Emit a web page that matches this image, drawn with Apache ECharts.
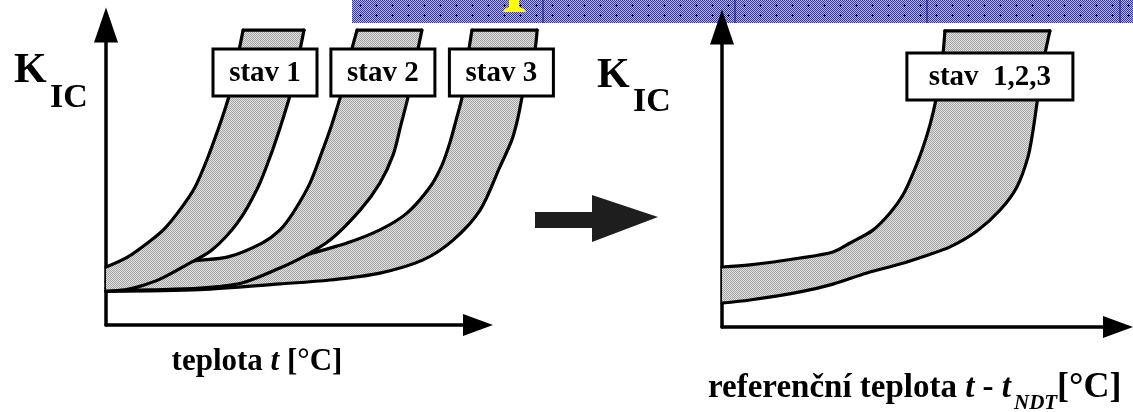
<!DOCTYPE html>
<html>
<head>
<meta charset="utf-8">
<script src="https://cdn.jsdelivr.net/npm/echarts@6/dist/echarts.min.js"></script>
<style>
html, body { margin: 0; padding: 0; background: #ffffff; }
#chart { width: 1133px; height: 412px; }
</style>
</head>
<body>
<div id="chart"></div>
<script>
// Scatter bands of fracture toughness K_IC versus temperature (schematic units:
// x = temperature, y = K_IC). Each band is bounded by an upper and a lower curve.
const stav1Upper = [[0,19.3],[7.3,22.7],[14.7,28],[19.7,32.3],[25.3,39.3],[29.7,46],[34,56],[37.3,65],[40,73],[42,80],[43.7,88.3],[44.7,93.3],[45.7,98.3]];
const stav1Lower = [[0,11.3],[6.3,11.7],[10.7,12.7],[18,15.3],[27.3,20.3],[35.3,25],[44,34.3],[50.7,46],[55.3,57.7],[58,65.7],[60.3,73],[62,79],[63.7,86.7],[65,93.3],[66,98.3]];

const stav2Upper = [[0,14.3],[14.7,17],[27.3,21],[40.7,22.7],[52,27.3],[58,31.7],[62.3,37.3],[68,47.3],[72,57.7],[75,66],[77.3,73.3],[79.3,80],[81,87.7],[82.3,93.3],[83.7,98.3]];
const stav2Lower = [[0,11.3],[14.7,11.7],[31.3,12.3],[45.3,14],[58,19],[65.7,22.7],[74.7,28.3],[84.7,38.3],[91.3,47.3],[95.7,56.7],[98.3,66.7],[100.7,76],[102.3,83.3],[104,92],[105.3,98.3]];

const stav3Upper = [[0,12.3],[24.7,13.3],[48,16.5],[58,19.5],[65.7,22.8],[69,24],[80.3,27.3],[91.3,31.7],[100.3,37.3],[108,46],[112,53.3],[114.7,61],[116.7,68.3],[118.7,76],[120,85],[121,92],[122,98.3]];
const stav3Lower = [[0,11.3],[31.3,11.8],[58,13.7],[74.7,15],[91.3,17.3],[105.7,21.7],[115.7,28.3],[124.7,38.3],[131.3,52.7],[135.3,61.7],[137.3,69],[138.7,76],[140.7,84.3],[143,92],[143.7,98.3]];

// Common band after shifting to reference temperature t - t_NDT
const refUpper = [[0,20],[9.3,20.7],[26,23],[37,25],[42.7,28],[50.3,32.3],[56,38],[60.3,44],[63.7,51.3],[66.7,59],[69.3,67.3],[71.3,75.7],[72.7,84],[73.7,91.3],[74.3,98.7]];
const refLower = [[0,8],[9.3,9],[26,11.7],[37,14.3],[48.3,18],[59.3,21],[67.7,23.7],[76,26.7],[85,32],[92.7,39],[98.3,46.7],[102,56.7],[103.7,65.7],[105,74.7],[106.3,84],[107.7,91.3],[109.3,98.7]];

// Band captions and where they sit (data units)
const leftCaptions = ['stav 1', 'stav 2', 'stav 3'];
const leftCaptionPos = [[53, 84.2], [92.3, 84.2], [131.8, 84.2]];
const rightCaptions = ['stav  1,2,3'];
const rightCaptionPos = [[89.3, 83.5]];

// Axis titles
const yTitleMain = 'K';
const yTitleSub = 'IC';
const xTitleLeft = ['teplota ', 't', ' [°C]'];
const xTitleRight = ['referenční teplota ', 't', ' - ', 't'];
const xTitleRightSub = 'NDT';
const xTitleRightUnit = '[°C]';

// ---------- fills ----------
function ditherTile(w, h, a, b, extra) {
  const c = document.createElement('canvas');
  c.width = w; c.height = h;
  const ctx = c.getContext('2d');
  for (let y = 0; y < h; y++) {
    for (let x = 0; x < w; x++) {
      ctx.fillStyle = (x + y) % 2 ? a : b;
      ctx.fillRect(x, y, 1, 1);
    }
  }
  if (extra) extra(ctx);
  return c;
}
const bandFill = { image: ditherTile(2, 2, '#e0e0e0', '#a4a4a4'), repeat: 'repeat' };
const bannerFill = { image: ditherTile(16, 10, '#b8b8e8', '#3434a8', ctx => {
  ctx.fillStyle = '#00006a';
  ctx.fillRect(8, 4, 1, 3);
  ctx.fillRect(7, 5, 3, 1);
}), repeat: 'repeat' };

const SERIF = '"Liberation Serif", "Times New Roman", serif';

// ---------- renderers ----------
function renderBands(bands) {
  return function (params, api) {
    const b = bands[params.dataIndex];
    const up = b.upper.map(p => api.coord(p));
    const lo = b.lower.map(p => api.coord(p));
    const outline = { stroke: '#000', lineWidth: 3.2, fill: null, lineJoin: 'round', lineCap: 'round' };
    const tu = up[up.length - 1], tl = lo[lo.length - 1];
    return {
      type: 'group',
      children: [
        { type: 'polygon', shape: { points: up.concat(lo.slice().reverse()) }, style: { fill: bandFill, stroke: null } },
        { type: 'polyline', shape: { points: up, smooth: 0.3 }, style: outline },
        { type: 'polyline', shape: { points: lo, smooth: 0.3 }, style: outline },
        { type: 'line', shape: { x1: tu[0], y1: tu[1], x2: tl[0], y2: tl[1] }, style: outline }
      ]
    };
  };
}

function renderCaptions(texts, pos, size) {
  return function (params, api) {
    const i = params.dataIndex;
    const c = api.coord(pos[i]);
    return {
      type: 'group',
      children: [
        { type: 'rect', shape: { x: c[0] - size[0] / 2, y: c[1] - size[1] / 2, width: size[0], height: size[1] },
          style: { fill: '#fff', stroke: '#000', lineWidth: 3 } },
        { type: 'text', x: c[0], y: c[1] + 1,
          style: { text: texts[i], font: 'bold 29px ' + SERIF, fill: '#000', align: 'center', verticalAlign: 'middle' } }
      ]
    };
  };
}

function axisPair(gi, xmax) {
  const line = (size) => ({ show: true, onZero: false, symbol: ['none', 'triangle'], symbolSize: size,
    lineStyle: { color: '#000', width: 3.5 } });
  return {
    x: { gridIndex: gi, type: 'value', min: 0, max: xmax, axisLine: line([22, 30]),
         axisTick: { show: false }, axisLabel: { show: false }, splitLine: { show: false } },
    y: { gridIndex: gi, type: 'value', min: 0, max: 100, axisLine: line([24, 35]),
         axisTick: { show: false }, axisLabel: { show: false }, splitLine: { show: false } }
  };
}
const leftAxes = axisPair(0, 124);
const rightAxes = axisPair(1, 132);

const leftBands = [
  { upper: stav3Upper, lower: stav3Lower },
  { upper: stav2Upper, lower: stav2Lower },
  { upper: stav1Upper, lower: stav1Lower }
];
const rightBands = [{ upper: refUpper, lower: refLower }];

const bold = (px) => ({ font: 'bold ' + px + 'px ' + SERIF, fill: '#000' });
const boldItalic = (px) => ({ font: 'italic bold ' + px + 'px ' + SERIF, fill: '#000' });

const option = {
  animation: false,
  backgroundColor: '#ffffff',
  grid: [
    { left: 106, top: 25, width: 372, height: 300 },
    { left: 722, top: 27, width: 396, height: 300 }
  ],
  xAxis: [leftAxes.x, rightAxes.x],
  yAxis: [leftAxes.y, rightAxes.y],
  series: [
    { type: 'custom', xAxisIndex: 0, yAxisIndex: 0, z: 2, clip: false,
      renderItem: renderBands(leftBands), data: leftBands.map(() => [0, 0]) },
    { type: 'custom', xAxisIndex: 0, yAxisIndex: 0, z: 3, clip: false,
      renderItem: renderCaptions(leftCaptions, leftCaptionPos, [104, 47]), data: leftCaptions.map(() => [0, 0]) },
    { type: 'custom', xAxisIndex: 1, yAxisIndex: 1, z: 2, clip: false,
      renderItem: renderBands(rightBands), data: rightBands.map(() => [0, 0]) },
    { type: 'custom', xAxisIndex: 1, yAxisIndex: 1, z: 3, clip: false,
      renderItem: renderCaptions(rightCaptions, rightCaptionPos, [166, 47]), data: rightCaptions.map(() => [0, 0]) }
  ],
  graphic: [
    // dotted banner strip along the top
    { type: 'rect', z: -10, shape: { x: 352, y: 0, width: 781, height: 23 }, style: { fill: bannerFill } },
    ...[543, 735, 927, 1120].map(x => ({ type: 'line', z: -9, shape: { x1: x, y1: 0, x2: x, y2: 23 },
      style: { stroke: '#10107a', lineWidth: 1 } })),
    { type: 'polygon', z: -8, shape: { points: [[509, 0], [519, 0], [519, 7], [524, 9], [526, 12], [503, 12], [505, 9], [509, 7]] },
      style: { fill: '#ffff00' } },

    // arrow between the two panels
    { type: 'polygon', shape: { points: [[535, 212], [592, 212], [592, 195], [658, 217], [592, 242], [592, 228], [535, 228]] },
      style: { fill: '#1e1e1e' } },

    // left panel titles
    { type: 'text', x: 14, y: 71, style: Object.assign({ text: yTitleMain, align: 'left', verticalAlign: 'middle' }, bold(42)) },
    { type: 'text', x: 50, y: 98, style: Object.assign({ text: yTitleSub, align: 'left', verticalAlign: 'middle' }, bold(34)) },
    { type: 'text', x: 257, y: 362, style: {
      text: '{b|' + xTitleLeft[0] + '}{i|' + xTitleLeft[1] + '}{b|' + xTitleLeft[2] + '}',
      align: 'center', verticalAlign: 'middle', rich: { b: bold(31), i: boldItalic(31) } } },

    // right panel titles
    { type: 'text', x: 597, y: 76, style: Object.assign({ text: yTitleMain, align: 'left', verticalAlign: 'middle' }, bold(42)) },
    { type: 'text', x: 633, y: 102, style: Object.assign({ text: yTitleSub, align: 'left', verticalAlign: 'middle' }, bold(34)) },
    { type: 'text', x: 708, y: 388, style: {
      text: '{b|' + xTitleRight[0] + '}{i|' + xTitleRight[1] + '}{b|' + xTitleRight[2] + '}{i|' + xTitleRight[3] + '}',
      align: 'left', verticalAlign: 'middle', rich: { b: bold(33), i: boldItalic(33) } } },
    { type: 'text', x: 1014, y: 404, style: Object.assign({ text: xTitleRightSub, align: 'left', verticalAlign: 'middle' }, boldItalic(21)) },
    { type: 'text', x: 1057, y: 388, style: Object.assign({ text: xTitleRightUnit, align: 'left', verticalAlign: 'middle' }, bold(36)) }
  ]
};

const chart = echarts.init(document.getElementById('chart'));
chart.setOption(option);
</script>
</body>
</html>
